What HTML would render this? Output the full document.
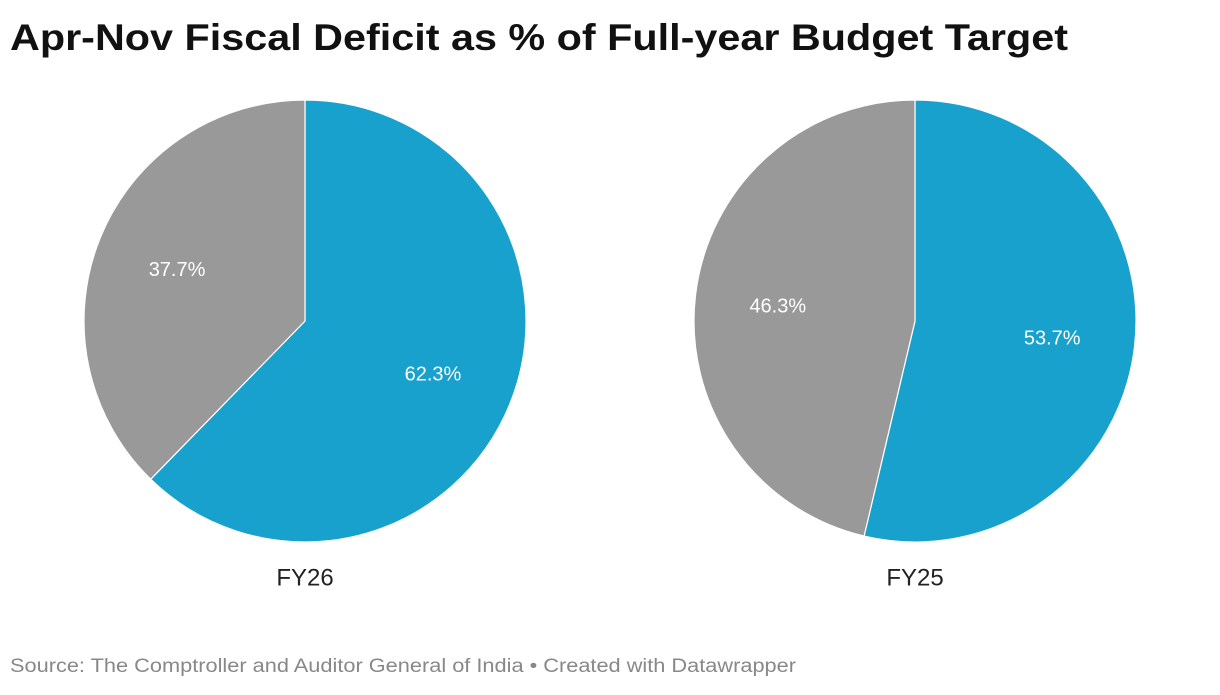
<!DOCTYPE html>
<html><head><meta charset="utf-8"><style>
body{margin:0;width:1220px;height:690px;background:#fff;font-family:"Liberation Sans",sans-serif;overflow:hidden}
</style></head><body>
<svg id="chart" width="1220" height="690" xmlns="http://www.w3.org/2000/svg">
<text x="10" y="50" font-size="37" font-weight="bold" fill="#111" font-family="Liberation Sans, sans-serif" textLength="1058" lengthAdjust="spacingAndGlyphs">Apr-Nov Fiscal Deficit as % of Full-year Budget Target</text>
<text x="10" y="672" font-size="19" fill="#888" font-family="Liberation Sans, sans-serif" textLength="786" lengthAdjust="spacingAndGlyphs">Source: The Comptroller and Auditor General of India • Created with Datawrapper</text>
</svg>
<script>
const years = ["FY26", "FY25"];
const blueValues = [62.3, 53.7];
const grayValues = [37.7, 46.3];
const svg = document.getElementById('chart');
const NS = 'http://www.w3.org/2000/svg';
const centersX = [305, 915], cy = 321, R = 221;
function pt(cx, frac, r){const a = frac*2*Math.PI; return [cx + r*Math.sin(a), cy - r*Math.cos(a)];}
function slice(cx, f0, f1, color, name){
  const p0 = pt(cx,f0,R), p1 = pt(cx,f1,R);
  const large = (f1-f0) > 0.5 ? 1 : 0;
  const p = document.createElementNS(NS,'path');
  p.setAttribute('d',`M${cx},${cy} L${p0[0]},${p0[1]} A${R},${R} 0 ${large} 1 ${p1[0]},${p1[1]} Z`);
  p.setAttribute('fill',color); p.setAttribute('stroke','#fff'); p.setAttribute('stroke-width','1.2');
  
  
  svg.appendChild(p);
}
function label(x,y,txt,size,color,name){
  const t = document.createElementNS(NS,'text');
  t.setAttribute('x',x); t.setAttribute('y',y); t.setAttribute('text-anchor','middle');
  t.setAttribute('dominant-baseline','middle'); t.setAttribute('font-size',size); t.setAttribute('fill',color);
  t.setAttribute('font-family','Liberation Sans, sans-serif');
  t.textContent = txt;
  
  
  svg.appendChild(t);
}
years.forEach((y,i)=>{
  const cx = centersX[i];
  const total = blueValues[i] + grayValues[i];
  const fb = blueValues[i]/total;
  slice(cx, 0, fb, '#18a1cd', 'slice-blue-' + y.toLowerCase());
  slice(cx, fb, 1, '#999999', 'slice-gray-' + y.toLowerCase());
  const lb = pt(cx, fb/2, R*0.625);
  label(lb[0], lb[1]+2, blueValues[i].toFixed(1)+'%', 20, '#fff', 'value-label-blue-' + y.toLowerCase());
  const lg = pt(cx, fb + (1-fb)/2, R*0.625);
  label(lg[0], lg[1]+2, grayValues[i].toFixed(1)+'%', 20, '#fff', 'value-label-gray-' + y.toLowerCase());
  label(cx, 579, y, 24, '#222', 'pie-title-' + y.toLowerCase());
});
</script>
</body></html>
